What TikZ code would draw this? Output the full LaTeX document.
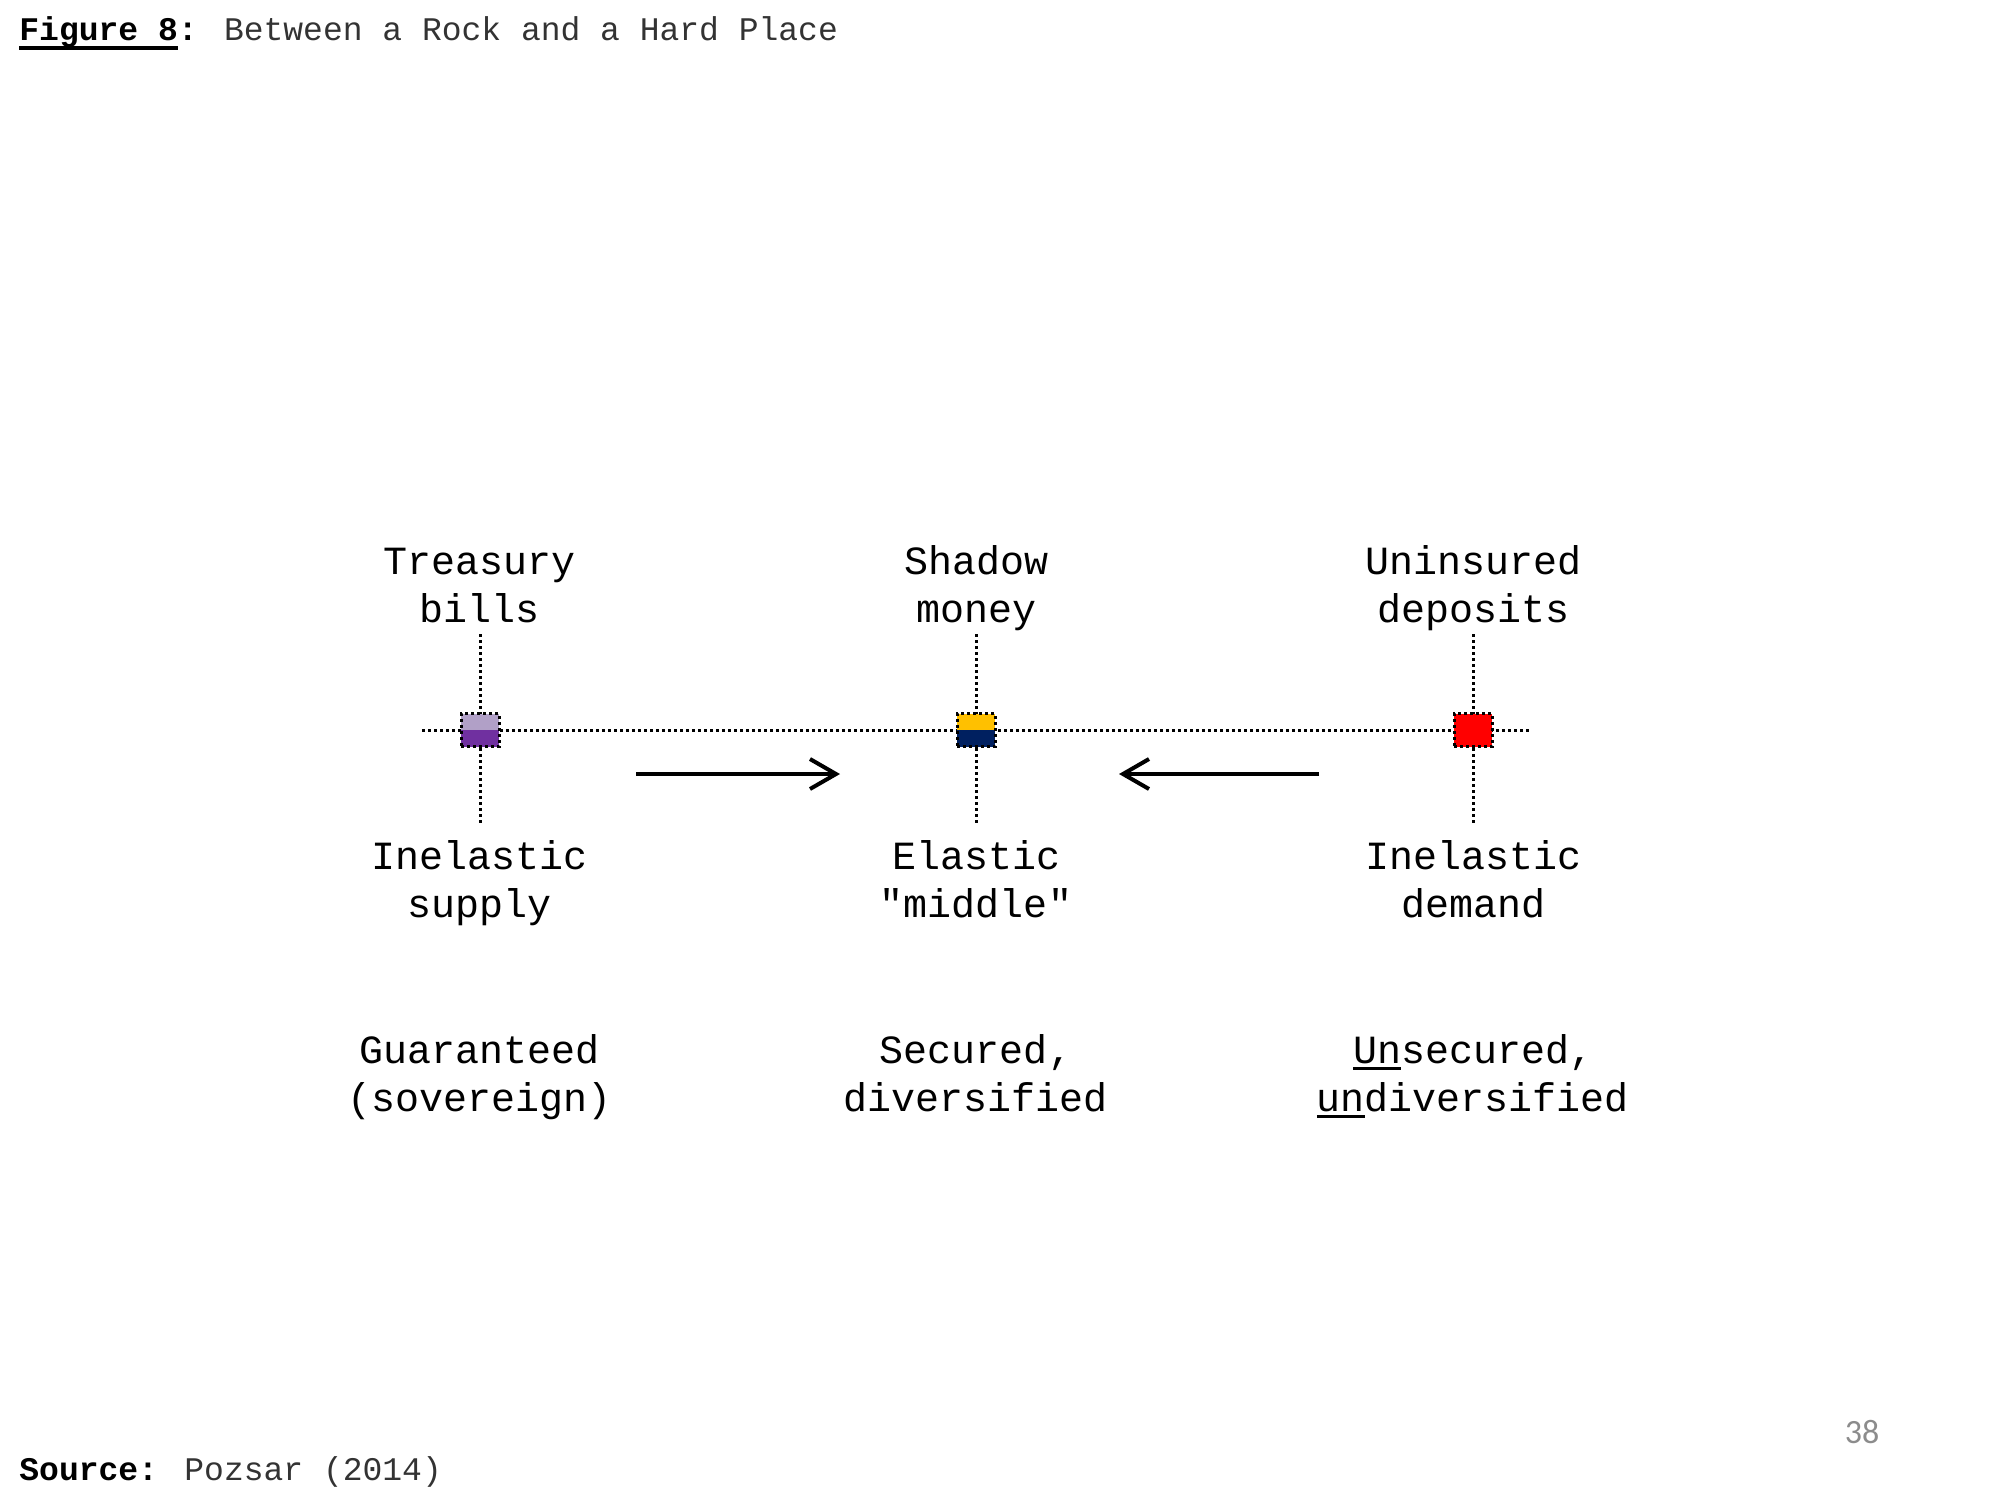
\documentclass[tikz,border=0pt]{standalone}
\usepackage{fontspec}
\setmainfont{Liberation Mono}
\setmonofont{Liberation Mono}
\newfontfamily\pagefont{Carlito}
\usetikzlibrary{arrows.meta}
\definecolor{lilac}{HTML}{B1A0C7}
\definecolor{plum}{HTML}{7030A0}
\definecolor{gold}{HTML}{FFC000}
\definecolor{navy}{HTML}{002060}
\definecolor{pagegray}{HTML}{8C8C8C}
\newcommand{\thickul}[3]{\setbox0\hbox{#3}\rlap{\rule[#1]{\wd0}{#2}}\box0}

\begin{document}
\begin{tikzpicture}[
    x=0.5pt, y=-0.5pt,
    every node/.style={inner sep=0pt, font=\fontsize{20}{24}\selectfont, align=center},
    gridline/.style={line width=1.5pt, dash pattern=on 1.5pt off 1.5pt},
    marker/.style 2 args={draw, line width=1.5pt, dash pattern=on 1.5pt off 1.5pt, minimum width=19pt, minimum height=16.5pt, fill=#2,
        path picture={\fill[#1] (path picture bounding box.north west) rectangle (path picture bounding box.east);}},
    arrow/.style={-{Straight Barb[length=13pt,width=15pt]}, line width=2pt}
]
\useasboundingbox (0,0) rectangle (2000,1500);

% heading and footer
\node[anchor=base west, font=\fontsize{16.5}{20}\selectfont] (title) at (19,40) {\thickul{-4.75pt}{2pt}{\textbf{Figure 8}}\textbf{:} \textcolor{black!80}{Between a Rock and a Hard Place}};
\node[anchor=base west, font=\fontsize{16.5}{20}\selectfont] (src) at (19,1480) {\textbf{Source:} \textcolor{black!80}{Pozsar (2014)}};
\node[anchor=base, font=\pagefont\fontsize{17}{20}\selectfont, text=pagegray] (pnum) at (1862,1443) {38};

% ends of the lines
\coordinate (lend) at (422,730);
\coordinate (rend) at (1531,730);
\coordinate (tbtop) at (480,634);
\coordinate (tbbot) at (480,825);
\coordinate (smtop) at (976,634);
\coordinate (smbot) at (976,825);
\coordinate (udtop) at (1473,634);
\coordinate (udbot) at (1473,825);

\draw[gridline] (lend) -- (480,730) -- (976,730) -- (1473,730) -- (rend);
\draw[gridline] (tbtop) -- (tbbot);
\draw[gridline] (smtop) -- (smbot);
\draw[gridline] (udtop) -- (udbot);

% markers
\node[marker={lilac}{plum}] (tb) at (480,730) {};
\node[marker={gold}{navy}] (sm) at (976,730) {};
\node[marker={red}{red}] (ud) at (1473,730) {};

% labels (anchored on the baseline of the last line)
\node[anchor=base] (tbname) at (480,622) {Treasury\\bills};
\node[anchor=base] (smname) at (976,622) {Shadow\\money};
\node[anchor=base] (udname) at (1473,622) {Uninsured\\deposits};

\node[anchor=base] (tbkind) at (480,917) {Inelastic\\supply};
\node[anchor=base] (smkind) at (976,917) {Elastic\\\textquotedbl middle\textquotedbl};
\node[anchor=base] (udkind) at (1473,917) {Inelastic\\demand};

\node[anchor=base] (tbnote) at (480,1111) {Guaranteed\\(sovereign)};
\node[anchor=base] (smnote) at (976,1111) {Secured,\\diversified};
\node[anchor=base] (udnote) at (1473,1111) {\thickul{-3.5pt}{1.5pt}{Un}secured,\\\thickul{-3.5pt}{1.5pt}{un}diversified};

% arrows
\coordinate (ra1) at (636,774);
\coordinate (ra2) at (840,774);
\coordinate (la1) at (1319,774);
\coordinate (la2) at (1119,774);
\draw[arrow] (ra1) -- (ra2);
\draw[arrow] (la1) -- (la2);
\end{tikzpicture}
\end{document}
